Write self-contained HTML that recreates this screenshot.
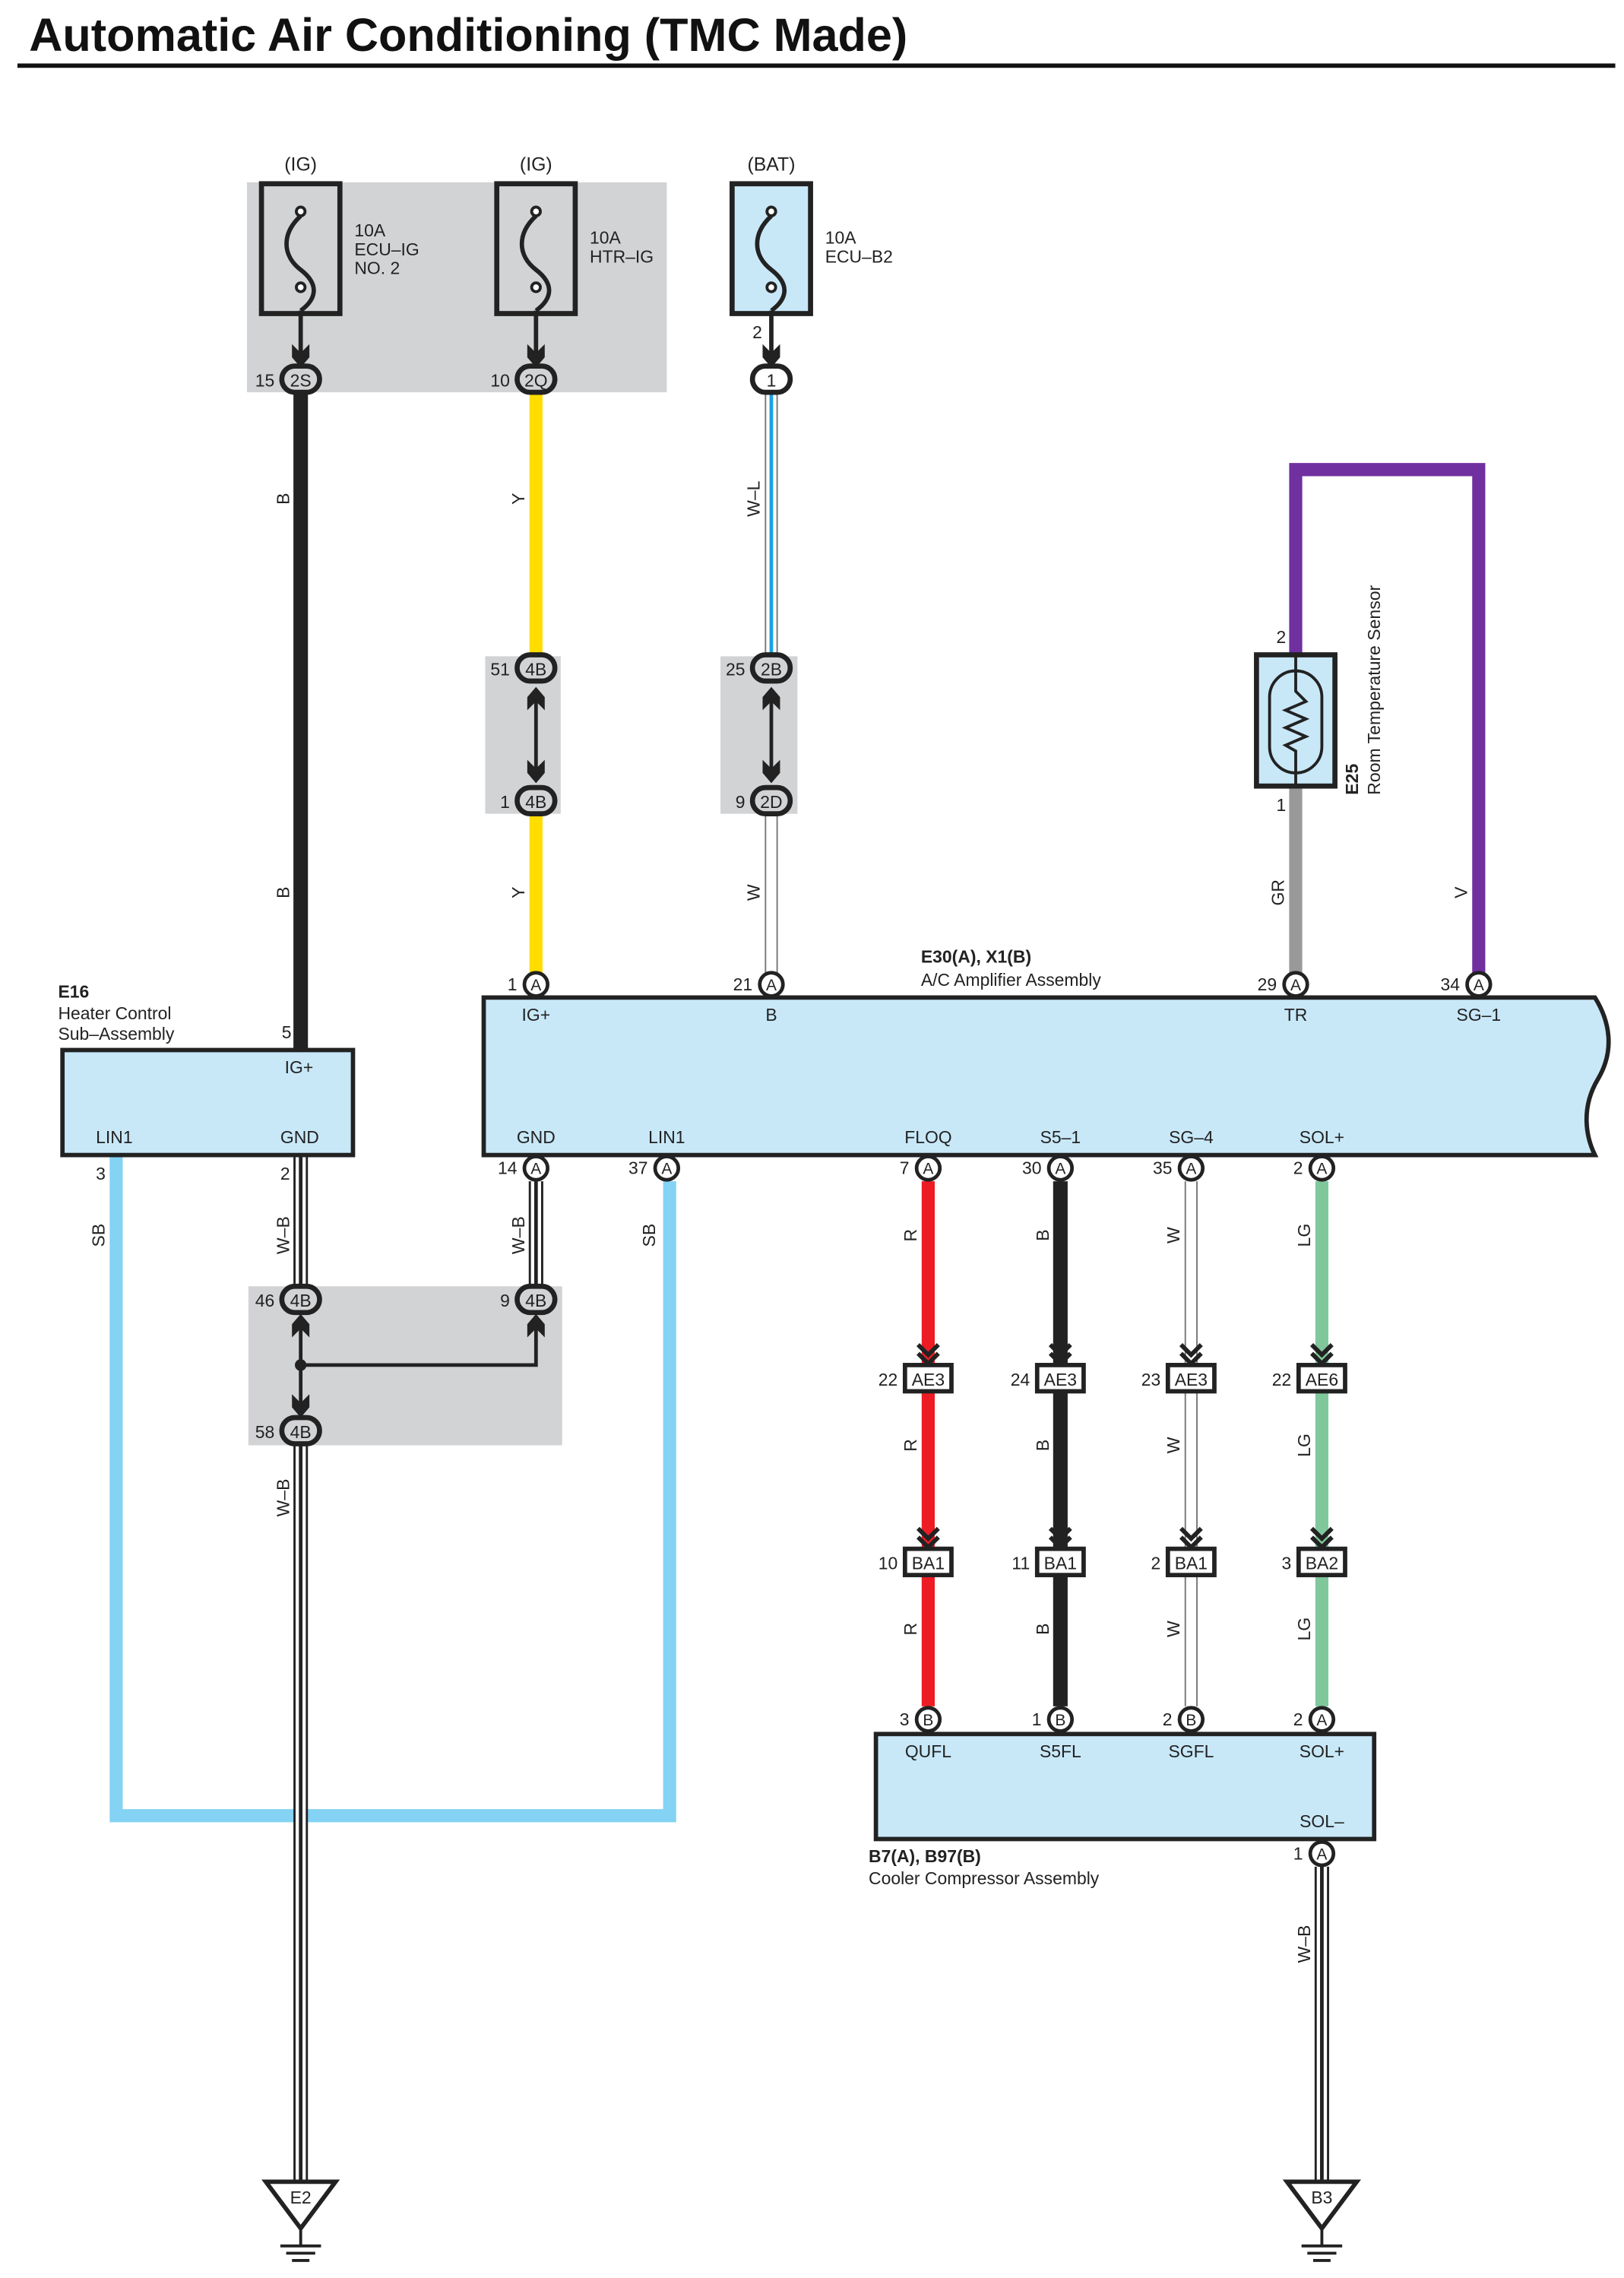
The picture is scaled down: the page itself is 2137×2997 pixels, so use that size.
<!DOCTYPE html>
<html><head><meta charset="utf-8"><style>
html,body{margin:0;padding:0;background:#fff}
svg{display:block}
text{font-family:"Liberation Sans",Arial,sans-serif;fill:#222}
</style></head><body>
<svg width="2137" height="2997" viewBox="0 0 1118 1562" preserveAspectRatio="none" xmlns="http://www.w3.org/2000/svg">
<defs>
<g id="chev"><polyline points="-7,-14 0,-7 7,-14" fill="none" stroke="#222" stroke-width="3"/><polyline points="-7,-8 0,-1 7,-8" fill="none" stroke="#222" stroke-width="3"/></g>
<path id="arrD" d="M-6,-12 L-6,-3 L0,4 L6,-3 L6,-12 L0,-6 Z" fill="#222"/>
<path id="arrU" d="M-6,12 L-6,3 L0,-4 L6,3 L6,12 L0,6 Z" fill="#222"/>
</defs>
<text x="20" y="35" font-size="32" font-weight="bold" style="fill:#111">Automatic Air Conditioning (TMC Made)</text>
<line x1="12" y1="45" x2="1112" y2="45" stroke="#111" stroke-width="3"/>

<rect x="170" y="125" width="289" height="144" fill="#d2d3d5"/>
<rect x="334" y="450" width="52" height="108" fill="#d2d3d5"/>
<rect x="496" y="450" width="53" height="108" fill="#d2d3d5"/>
<rect x="171" y="882" width="216" height="109" fill="#d2d3d5"/>

<line x1="207" y1="268" x2="207" y2="720" stroke="#222" stroke-width="10"/>
<line x1="369" y1="268" x2="369" y2="450" stroke="#ffdd00" stroke-width="9"/>
<line x1="369" y1="558" x2="369" y2="668" stroke="#ffdd00" stroke-width="9"/>
<line x1="531" y1="268" x2="531" y2="450" stroke="#777" stroke-width="9"/>
<line x1="531" y1="268" x2="531" y2="450" stroke="#fff" stroke-width="7"/>
<line x1="531" y1="268" x2="531" y2="450" stroke="#1ba1e2" stroke-width="2.5"/>
<line x1="531" y1="558" x2="531" y2="668" stroke="#777" stroke-width="9"/>
<line x1="531" y1="558" x2="531" y2="668" stroke="#fff" stroke-width="7"/>
<polyline points="892,450 892,322 1018,322 1018,668" fill="none" stroke="#7030a0" stroke-width="9"/>
<line x1="892" y1="540" x2="892" y2="668" stroke="#98999b" stroke-width="9"/>

<g stroke="#222" stroke-width="3.5">
<rect x="180" y="126" width="54" height="89" fill="none"/>
<rect x="342" y="126" width="54" height="89" fill="none"/>
<rect x="504" y="126" width="54" height="89" fill="#c8e8f8"/>
</g>
<g fill="none" stroke="#222" stroke-width="3">
<path d="M207,148 C194,160 194,175 207,185 C220,195 218,205 207,213"/>
<path d="M369,148 C356,160 356,175 369,185 C382,195 380,205 369,213"/>
<path d="M531,148 C518,160 518,175 531,185 C544,195 542,205 531,213"/>
<line x1="207" y1="213" x2="207" y2="248"/><line x1="369" y1="213" x2="369" y2="248"/><line x1="531" y1="213" x2="531" y2="248"/>
</g>
<g fill="#fff" stroke="#222" stroke-width="2"><circle cx="207" cy="145" r="3"/><circle cx="207" cy="197" r="3"/><circle cx="369" cy="145" r="3"/><circle cx="369" cy="197" r="3"/><circle cx="531" cy="145" r="3"/><circle cx="531" cy="197" r="3"/></g>
<use href="#arrD" x="207" y="248"/><use href="#arrD" x="369" y="248"/><use href="#arrD" x="531" y="248"/>
<g font-size="13" text-anchor="middle"><text x="207" y="117">(IG)</text><text x="369" y="117">(IG)</text><text x="531" y="117">(BAT)</text></g>
<g font-size="12"><text x="244" y="162">10A</text><text x="244" y="175">ECU–IG</text><text x="244" y="188">NO. 2</text>
<text x="406" y="167">10A</text><text x="406" y="180">HTR–IG</text>
<text x="568" y="167">10A</text><text x="568" y="180">ECU–B2</text>
<text x="518" y="232">2</text></g>

<g stroke="#222" stroke-width="3.5">
<rect x="194" y="251" width="26" height="18" rx="9" fill="#d2d3d5"/>
<rect x="356" y="251" width="26" height="18" rx="9" fill="#d2d3d5"/>
<rect x="518" y="251" width="26" height="18" rx="9" fill="#fff"/>
<rect x="356" y="449" width="26" height="18" rx="9" fill="#d2d3d5"/>
<rect x="356" y="540" width="26" height="18" rx="9" fill="#d2d3d5"/>
<rect x="518" y="449" width="26" height="18" rx="9" fill="#d2d3d5"/>
<rect x="518" y="540" width="26" height="18" rx="9" fill="#d2d3d5"/>
</g>
<g font-size="12" text-anchor="middle"><text x="207" y="265">2S</text><text x="369" y="265">2Q</text><text x="531" y="265">1</text>
<text x="369" y="463">4B</text><text x="369" y="554">4B</text><text x="531" y="463">2B</text><text x="531" y="554">2D</text></g>
<g font-size="12" text-anchor="end"><text x="189" y="265">15</text><text x="351" y="265">10</text><text x="351" y="463">51</text><text x="351" y="554">1</text><text x="513" y="463">25</text><text x="513" y="554">9</text></g>
<line x1="369" y1="475" x2="369" y2="533" stroke="#222" stroke-width="2.5"/>
<line x1="531" y1="475" x2="531" y2="533" stroke="#222" stroke-width="2.5"/>
<use href="#arrU" x="369" y="475"/><use href="#arrD" x="369" y="533"/>
<use href="#arrU" x="531" y="475"/><use href="#arrD" x="531" y="533"/>

<rect x="865" y="449" width="54" height="90" fill="#c8e8f8" stroke="#222" stroke-width="3.5"/>
<rect x="874" y="460" width="36" height="70" rx="18" fill="none" stroke="#222" stroke-width="2"/>
<polyline points="892,450 892,474 899,481 885,487 899,493 885,499 899,505 885,511 892,515 892,539" fill="none" stroke="#222" stroke-width="2"/>
<text x="882" y="441" font-size="12" text-anchor="middle">2</text>
<text x="882" y="556" font-size="12" text-anchor="middle">1</text>
<text transform="translate(935,545) rotate(-90)" font-size="12" font-weight="bold">E25</text>
<text transform="translate(950,545) rotate(-90)" font-size="12">Room Temperature Sensor</text>

<g font-size="12" text-anchor="middle">
<text transform="translate(199,342) rotate(-90)">B</text>
<text transform="translate(199,612) rotate(-90)">B</text>
<text transform="translate(361,342) rotate(-90)">Y</text>
<text transform="translate(361,612) rotate(-90)">Y</text>
<text transform="translate(523,342) rotate(-90)">W–L</text>
<text transform="translate(523,612) rotate(-90)">W</text>
<text transform="translate(884,612) rotate(-90)">GR</text>
<text transform="translate(1010,612) rotate(-90)">V</text>
<text transform="translate(72,847) rotate(-90)">SB</text>
<text transform="translate(199,847) rotate(-90)">W–B</text>
<text transform="translate(361,847) rotate(-90)">W–B</text>
<text transform="translate(451,847) rotate(-90)">SB</text>
<text transform="translate(199,1027) rotate(-90)">W–B</text>
<text transform="translate(902,1333) rotate(-90)">W–B</text>
<text transform="translate(631,847) rotate(-90)">R</text><text transform="translate(631,991) rotate(-90)">R</text><text transform="translate(631,1117) rotate(-90)">R</text>
<text transform="translate(722,847) rotate(-90)">B</text><text transform="translate(722,991) rotate(-90)">B</text><text transform="translate(722,1117) rotate(-90)">B</text>
<text transform="translate(812,847) rotate(-90)">W</text><text transform="translate(812,991) rotate(-90)">W</text><text transform="translate(812,1117) rotate(-90)">W</text>
<text transform="translate(902,847) rotate(-90)">LG</text><text transform="translate(902,991) rotate(-90)">LG</text><text transform="translate(902,1117) rotate(-90)">LG</text>
</g>

<polyline points="80,792 80,1245 461,1245 461,810" fill="none" stroke="#84d2f4" stroke-width="9"/>

<g>
<line x1="207" y1="792" x2="207" y2="882" stroke="#222" stroke-width="10"/><line x1="207" y1="792" x2="207" y2="882" stroke="#fff" stroke-width="7"/><line x1="207" y1="792" x2="207" y2="882" stroke="#222" stroke-width="2.5"/>
<line x1="369" y1="810" x2="369" y2="882" stroke="#222" stroke-width="10"/><line x1="369" y1="810" x2="369" y2="882" stroke="#fff" stroke-width="7"/><line x1="369" y1="810" x2="369" y2="882" stroke="#222" stroke-width="2.5"/>
<line x1="207" y1="990" x2="207" y2="1495" stroke="#222" stroke-width="10"/><line x1="207" y1="990" x2="207" y2="1495" stroke="#fff" stroke-width="7"/><line x1="207" y1="990" x2="207" y2="1495" stroke="#222" stroke-width="2.5"/>
<line x1="910" y1="1280" x2="910" y2="1495" stroke="#222" stroke-width="10"/><line x1="910" y1="1280" x2="910" y2="1495" stroke="#fff" stroke-width="7"/><line x1="910" y1="1280" x2="910" y2="1495" stroke="#222" stroke-width="2.5"/>
</g>
<polyline points="207,905 207,968" fill="none" stroke="#222" stroke-width="2.5"/>
<polyline points="207,936 369,936 369,905" fill="none" stroke="#222" stroke-width="2.5"/>
<circle cx="207" cy="936" r="4" fill="#222"/>
<use href="#arrU" x="207" y="905"/><use href="#arrU" x="369" y="905"/><use href="#arrD" x="207" y="968"/>
<g stroke="#222" stroke-width="3.5" fill="#d2d3d5">
<rect x="194" y="882" width="26" height="18" rx="9"/><rect x="356" y="882" width="26" height="18" rx="9"/><rect x="194" y="972" width="26" height="18" rx="9"/></g>
<g font-size="12" text-anchor="middle"><text x="207" y="896">4B</text><text x="369" y="896">4B</text><text x="207" y="986">4B</text></g>
<g font-size="12" text-anchor="end"><text x="189" y="896">46</text><text x="351" y="896">9</text><text x="189" y="986">58</text></g>

<line x1="639" y1="810" x2="639" y2="1170" stroke="#ed1c24" stroke-width="9"/>
<line x1="730" y1="810" x2="730" y2="1170" stroke="#222" stroke-width="10"/>
<line x1="820" y1="810" x2="820" y2="1170" stroke="#777" stroke-width="9"/><line x1="820" y1="810" x2="820" y2="1170" stroke="#fff" stroke-width="7"/>
<line x1="910" y1="810" x2="910" y2="1170" stroke="#80c89c" stroke-width="9"/>
<g>
<use href="#chev" x="639" y="936"/><use href="#chev" x="730" y="936"/><use href="#chev" x="820" y="936"/><use href="#chev" x="910" y="936"/>
<use href="#chev" x="639" y="1062"/><use href="#chev" x="730" y="1062"/><use href="#chev" x="820" y="1062"/><use href="#chev" x="910" y="1062"/>
</g>
<g stroke="#222" stroke-width="3" fill="#fff">
<rect x="623" y="936" width="32" height="18"/><rect x="714" y="936" width="32" height="18"/><rect x="804" y="936" width="32" height="18"/><rect x="894" y="936" width="32" height="18"/>
<rect x="623" y="1062" width="32" height="18"/><rect x="714" y="1062" width="32" height="18"/><rect x="804" y="1062" width="32" height="18"/><rect x="894" y="1062" width="32" height="18"/>
</g>
<g font-size="12" text-anchor="middle">
<text x="639" y="950">AE3</text><text x="730" y="950">AE3</text><text x="820" y="950">AE3</text><text x="910" y="950">AE6</text>
<text x="639" y="1076">BA1</text><text x="730" y="1076">BA1</text><text x="820" y="1076">BA1</text><text x="910" y="1076">BA2</text></g>
<g font-size="12" text-anchor="end">
<text x="618" y="950">22</text><text x="709" y="950">24</text><text x="799" y="950">23</text><text x="889" y="950">22</text>
<text x="618" y="1076">10</text><text x="709" y="1076">11</text><text x="799" y="1076">2</text><text x="889" y="1076">3</text></g>

<rect x="43" y="720" width="200" height="72" fill="#c8e8f8" stroke="#222" stroke-width="3"/>
<g font-size="12"><text x="40" y="684" font-weight="bold">E16</text><text x="40" y="699">Heater Control</text><text x="40" y="713">Sub–Assembly</text>
<text x="194" y="712">5</text><text x="196" y="736">IG+</text><text x="66" y="784">LIN1</text><text x="193" y="784">GND</text>
<text x="66" y="809">3</text><text x="193" y="809">2</text></g>

<path d="M333,684 L1098,684 C1108,700 1112,720 1100,740 C1088,760 1092,780 1098,792 L333,792 Z" fill="#c8e8f8" stroke="#222" stroke-width="3"/>
<g font-size="12"><text x="634" y="660" font-weight="bold">E30(A), X1(B)</text><text x="634" y="676">A/C Amplifier Assembly</text></g>
<g font-size="12" text-anchor="middle">
<text x="369" y="700">IG+</text><text x="531" y="700">B</text><text x="892" y="700">TR</text><text x="1018" y="700">SG–1</text>
<text x="369" y="784">GND</text><text x="459" y="784">LIN1</text><text x="639" y="784">FLOQ</text><text x="730" y="784">S5–1</text><text x="820" y="784">SG–4</text><text x="910" y="784">SOL+</text>
</g>
<rect x="603" y="1189" width="343" height="72" fill="#c8e8f8" stroke="#222" stroke-width="3"/>
<g font-size="12" text-anchor="middle"><text x="639" y="1205">QUFL</text><text x="730" y="1205">S5FL</text><text x="820" y="1205">SGFL</text><text x="910" y="1205">SOL+</text><text x="910" y="1253">SOL–</text></g>
<g font-size="12"><text x="598" y="1277" font-weight="bold">B7(A), B97(B)</text><text x="598" y="1292">Cooler Compressor Assembly</text></g>

<g stroke="#222" stroke-width="2.5" fill="#fff">
<circle cx="369" cy="675" r="8"/><circle cx="531" cy="675" r="8"/><circle cx="892" cy="675" r="8"/><circle cx="1018" cy="675" r="8"/>
<circle cx="369" cy="801" r="8"/><circle cx="459" cy="801" r="8"/><circle cx="639" cy="801" r="8"/><circle cx="730" cy="801" r="8"/><circle cx="820" cy="801" r="8"/><circle cx="910" cy="801" r="8"/>
<circle cx="639" cy="1179" r="8"/><circle cx="730" cy="1179" r="8"/><circle cx="820" cy="1179" r="8"/><circle cx="910" cy="1179" r="8"/><circle cx="910" cy="1271" r="8"/>
</g>
<g font-size="11" text-anchor="middle">
<text x="369" y="679">A</text><text x="531" y="679">A</text><text x="892" y="679">A</text><text x="1018" y="679">A</text>
<text x="369" y="805">A</text><text x="459" y="805">A</text><text x="639" y="805">A</text><text x="730" y="805">A</text><text x="820" y="805">A</text><text x="910" y="805">A</text>
<text x="639" y="1183">B</text><text x="730" y="1183">B</text><text x="820" y="1183">B</text><text x="910" y="1183">A</text><text x="910" y="1275">A</text>
</g>
<g font-size="12" text-anchor="end">
<text x="356" y="679">1</text><text x="518" y="679">21</text><text x="879" y="679">29</text><text x="1005" y="679">34</text>
<text x="356" y="805">14</text><text x="446" y="805">37</text><text x="626" y="805">7</text><text x="717" y="805">30</text><text x="807" y="805">35</text><text x="897" y="805">2</text>
<text x="626" y="1183">3</text><text x="717" y="1183">1</text><text x="807" y="1183">2</text><text x="897" y="1183">2</text><text x="897" y="1275">1</text>
</g>

<g stroke="#222" stroke-width="3" fill="#fff">
<polygon points="183,1496 231,1496 207,1528"/><polygon points="886,1496 934,1496 910,1528"/>
</g>
<g stroke="#222" stroke-width="2">
<line x1="207" y1="1528" x2="207" y2="1540"/><line x1="193" y1="1540" x2="221" y2="1540"/><line x1="197" y1="1545" x2="217" y2="1545"/><line x1="201" y1="1550" x2="213" y2="1550"/>
<line x1="910" y1="1528" x2="910" y2="1540"/><line x1="896" y1="1540" x2="924" y2="1540"/><line x1="900" y1="1545" x2="920" y2="1545"/><line x1="904" y1="1550" x2="916" y2="1550"/>
</g>
<g font-size="12" text-anchor="middle"><text x="207" y="1511">E2</text><text x="910" y="1511">B3</text></g>
</svg>
</body></html>
